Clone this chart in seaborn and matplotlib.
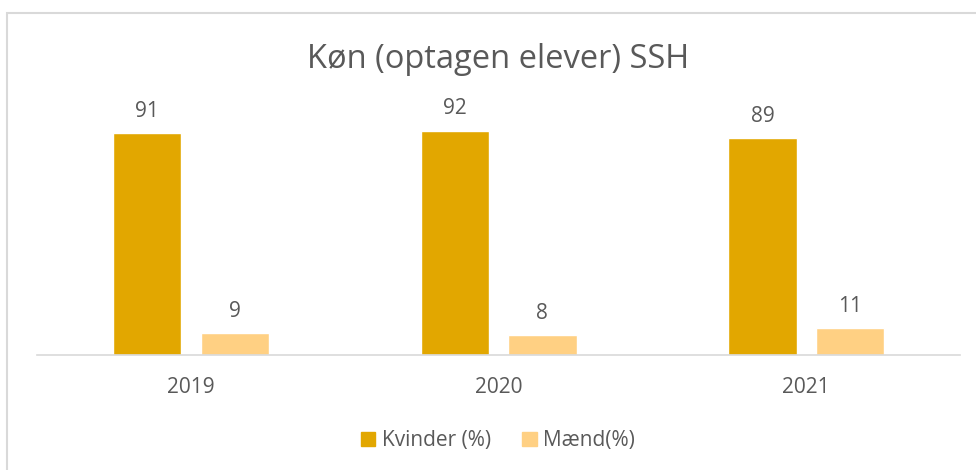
import pandas as pd
import matplotlib.pyplot as plt
import matplotlib.patches as mpatches
import seaborn as sns

# data
years = ['2019', '2020', '2021']
kvinder = [91, 92, 89]
maend = [9, 8, 11]
series_names = ['Kvinder (%)', 'Mænd(%)']

df = pd.DataFrame({
    'year': years * 2,
    'value': kvinder + maend,
    'serie': [series_names[0]] * 3 + [series_names[1]] * 3,
})

sns.set_style("white")
plt.rcParams['font.family'] = ['Open Sans', 'DejaVu Sans']
text_col = '#595959'
palette = {series_names[0]: '#E2A700', series_names[1]: '#FFD083'}

fig = plt.figure(figsize=(9.76, 4.70), dpi=100)
ax = fig.add_axes([0.038, 0.2447, 0.9457, 0.519])

sns.barplot(data=df, x='year', y='value', hue='serie', palette=palette,
            width=0.57, gap=0.22, ax=ax, legend=False, saturation=1)

for cont in ax.containers:
    ax.bar_label(cont, padding=8, fontsize=15, color=text_col)

ax.set_ylim(0, 100)
ax.set_xlim(-0.5, 2.5)
ax.set_xlabel('')
ax.set_ylabel('')
ax.set_yticks([])
ax.tick_params(axis='x', length=0, labelsize=15, labelcolor=text_col, pad=16)
for s in ['top', 'left', 'right']:
    ax.spines[s].set_visible(False)
ax.spines['bottom'].set_color('#D9D9D9')
ax.spines['bottom'].set_linewidth(1.2)

fig.text(0.510, 0.874, 'Køn (optagen elever) SSH', ha='center', va='center',
         fontsize=23.5, color=text_col)

handles = [mpatches.Patch(color=palette[n], label=n) for n in series_names]
fig.legend(handles=handles, loc='center', bbox_to_anchor=(0.51, 0.062), ncol=2,
           frameon=False, fontsize=15, labelcolor=text_col, handlelength=0.7,
           handleheight=0.7, handletextpad=0.3, columnspacing=1.5)

# chart border
border = mpatches.Rectangle((7 / 976, -0.05), 1.0, 1.05 - 13 / 470,
                            transform=fig.transFigure, fill=False,
                            edgecolor='#D9D9D9', linewidth=1.5)
fig.patches.append(border)

fig.savefig('out.png', dpi=100)
